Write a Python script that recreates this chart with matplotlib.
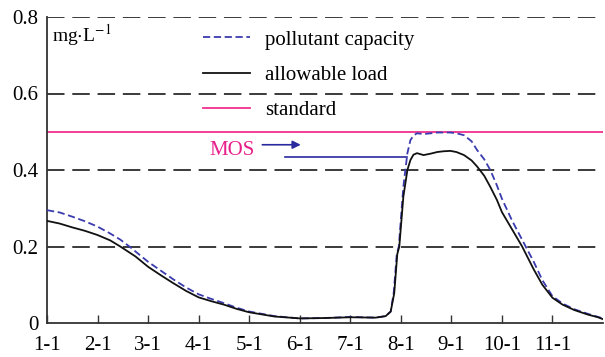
import numpy as np
import matplotlib.pyplot as plt

plt.rcParams['font.family'] = ['Liberation Serif', 'DejaVu Serif']
plt.rcParams['mathtext.fontset'] = 'stix'

# months since 1-1 (tick i = month i+1, day 1)
tick_labels = ['1-1', '2-1', '3-1', '4-1', '5-1', '6-1', '7-1', '8-1', '9-1', '10-1', '11-1']

# allowable load (solid black)
load_x = [0, 0.25, 0.5, 0.75, 1.0, 1.25, 1.45, 1.75, 2.0, 2.25, 2.5, 2.75, 3.0, 3.25, 3.5, 3.75,
          4.0, 4.5, 5.0, 5.5, 6.0, 6.5, 6.7, 6.8, 6.87, 6.93, 6.97, 7.05, 7.13, 7.19, 7.25,
          7.32, 7.45, 7.6, 7.72, 7.85, 7.98, 8.1, 8.25, 8.4, 8.51, 8.65, 8.77, 8.9, 9.0,
          9.2, 9.4, 9.63, 9.8, 10.0, 10.2, 10.43, 10.7, 10.9, 11.0]
load_y = [0.267, 0.260, 0.250, 0.241, 0.230, 0.216, 0.200, 0.174, 0.147, 0.125, 0.104, 0.084,
          0.067, 0.057, 0.048, 0.037, 0.028, 0.017, 0.012, 0.013, 0.015, 0.014, 0.018, 0.030,
          0.078, 0.180, 0.200, 0.330, 0.400, 0.426, 0.440, 0.444, 0.439, 0.443, 0.447, 0.449,
          0.450, 0.447, 0.439, 0.425, 0.409, 0.385, 0.356, 0.322, 0.290, 0.245, 0.200, 0.140,
          0.100, 0.066, 0.048, 0.034, 0.022, 0.015, 0.010]

# pollutant capacity (dashed blue)
cap_x = [0, 0.25, 0.5, 0.75, 1.0, 1.25, 1.45, 1.63, 2.0, 2.25, 2.5, 2.75, 3.0, 3.25, 3.5, 3.75,
         4.0, 4.5, 5.0, 5.5, 6.0, 6.5, 6.7, 6.8, 6.86, 6.92, 6.96, 7.05, 7.13, 7.19, 7.25,
         7.32, 7.45, 7.6, 7.72, 7.85, 7.98, 8.1, 8.25, 8.4, 8.51, 8.65, 8.77, 8.9, 9.0,
         9.2, 9.47, 9.63, 9.8, 10.0, 10.2, 10.43, 10.7, 10.9, 11.0]
cap_y = [0.295, 0.289, 0.278, 0.266, 0.252, 0.234, 0.218, 0.200, 0.160, 0.137, 0.114, 0.093,
         0.075, 0.063, 0.052, 0.040, 0.030, 0.018, 0.012, 0.013, 0.016, 0.014, 0.018, 0.030,
         0.080, 0.180, 0.200, 0.356, 0.444, 0.478, 0.490, 0.496, 0.494, 0.496, 0.498, 0.498,
         0.498, 0.496, 0.491, 0.475, 0.452, 0.428, 0.400, 0.360, 0.325, 0.268, 0.200, 0.160,
         0.112, 0.070, 0.051, 0.036, 0.024, 0.016, 0.012]

standard = 0.5

fig = plt.figure(figsize=(6.05, 3.57), dpi=100)
ax = fig.add_axes([47/605, 1-323/357, 556/605, 306/357])

ax.set_xlim(0, 11)
ax.set_ylim(0, 0.8)

for g in [0.2, 0.4, 0.6, 0.8]:
    ax.axhline(g, color='#3a3a3a', lw=1.4, dashes=(9, 4), zorder=1)

l3 = ax.axhline(standard, color='#f0308f', lw=1.3, zorder=2)
l1, = ax.plot(cap_x, cap_y, color='#3b3bb0', lw=1.3, dashes=(4, 2), zorder=3)
l2, = ax.plot(load_x, load_y, color='#111111', lw=1.3, zorder=3)

# MOS annotation
ax.text(3.66, 0.452, 'MOS', color='#e8208a', fontsize=15, ha='center', va='center')
ax.annotate('', xy=(5.02, 0.466), xytext=(4.26, 0.466),
            arrowprops=dict(arrowstyle='-|>', color='#2a2aa0', lw=1.2, mutation_scale=12,
                            shrinkA=0, shrinkB=0))
ax.plot([4.71, 7.12], [0.435, 0.435], color='#2a2aa0', lw=1.2, zorder=2)

ax.text(0.1, 0.735, r'mg$\cdot$L$^{-1}$', fontsize=14, ha='left', va='baseline')

ax.legend([l1, l2, l3], ['pollutant capacity', 'allowable load', 'standard'],
          loc='upper left', bbox_to_anchor=((203-47)/556, (323-30)/306), frameon=False,
          fontsize=15, handlelength=2.25, handletextpad=0.72, labelspacing=0.76,
          borderpad=0, borderaxespad=0)

ax.set_xticks(range(len(tick_labels)))
ax.set_xticklabels(tick_labels)
ax.set_yticks([0, 0.2, 0.4, 0.6, 0.8])
ax.set_yticklabels(['0', '0.2', '0.4', '0.6', '0.8'])
ax.tick_params(axis='x', direction='in', length=6, width=1, color='#333333', labelsize=15, pad=9)
ax.tick_params(axis='y', length=0, labelsize=15, pad=6)

for s in ['top', 'right']:
    ax.spines[s].set_visible(False)
for s in ['left', 'bottom']:
    ax.spines[s].set_color('#333333')
    ax.spines[s].set_linewidth(1.3)

fig.savefig('out.png', dpi=100)
